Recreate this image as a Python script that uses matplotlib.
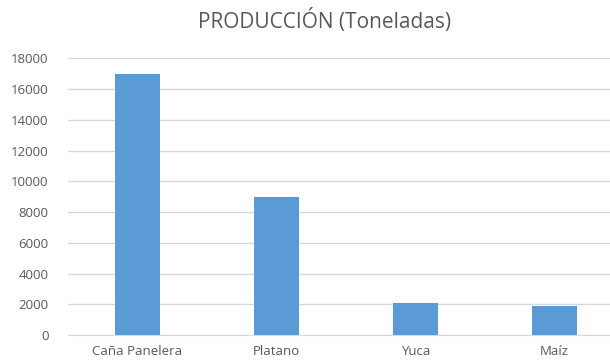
import numpy as np
import matplotlib.pyplot as plt

cultivos = ["Caña Panelera", "Platano", "Yuca", "Maíz"]
toneladas = [17000, 9000, 2060, 1890]
yticks = [0, 2000, 4000, 6000, 8000, 10000, 12000, 14000, 16000, 18000]

plt.rcParams['font.family'] = ['Open Sans', 'DejaVu Sans']
gris = '#595959'

fig = plt.figure(figsize=(6.1, 3.63), dpi=100)
ax = fig.add_axes([68/610, 28/363, 1 - 68/610, (335 - 58.3)/363])

x = np.arange(len(cultivos))
ax.bar(x, toneladas, width=0.32, color='#5B9BD5', zorder=3)

ax.set_xlim(-0.5, 3.4)
ax.set_ylim(0, 18000)
ax.set_yticks(yticks)
ax.set_yticklabels([str(v) for v in yticks], color=gris, fontsize=9.5)
ax.set_xticks(x)
ax.set_xticklabels(cultivos, color=gris, fontsize=9.5)
ax.tick_params(length=0, pad=7)
ax.tick_params(axis='y', pad=14)
ax.grid(axis='y', color='#D9D9D9', lw=1, zorder=0)
for s in ['top', 'right', 'left']:
    ax.spines[s].set_visible(False)
ax.spines['bottom'].set_color('#D9D9D9')

fig.text(325/610, 1 - 21/363, "PRODUCCIÓN (Toneladas)", ha='center', va='center',
         color=gris, fontsize=15)

fig.savefig('out.png', dpi=100)
